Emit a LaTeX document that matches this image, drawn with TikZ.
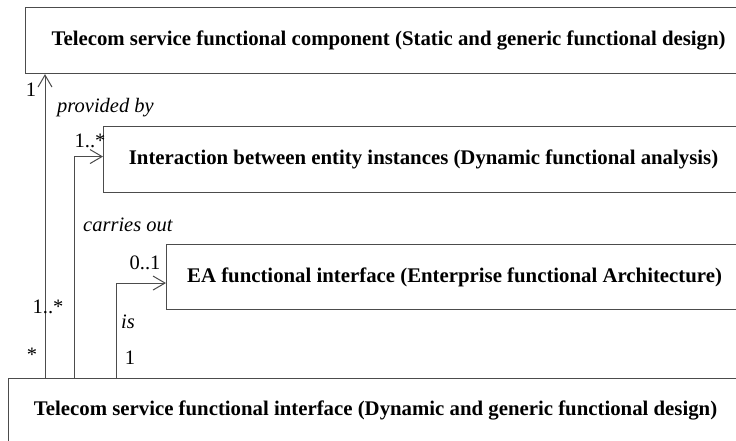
\documentclass[tikz,border=0pt]{standalone}
\usepackage{fontspec}
\setmainfont{Liberation Serif}
\usetikzlibrary{arrows.meta}
\begin{document}
\begin{tikzpicture}[x=1pt,y=-1pt,
  linecol/.style={draw=black!70},
  box/.style={linecol, line width=1.1pt, inner sep=0pt, anchor=north west, font=\fontsize{20.8}{24}\selectfont\bfseries, align=center},
  assoc/.style={linecol, line width=1pt, -{Straight Barb[length=12pt,width=14pt,line width=1pt]}},
  lbl/.style={font=\fontsize{20.5}{24}\selectfont, inner sep=0pt},
  ilbl/.style={font=\fontsize{20.5}{24}\selectfont\itshape, inner sep=0pt}]
\useasboundingbox (0,0) rectangle (736,441);
\clip (0,0) rectangle (736,441);
\fill[white] (0,0) rectangle (736,441);
\node[box, minimum width=726pt, minimum height=66pt] (comp) at (25,7) {Telecom service functional component (Static and generic functional design)};
\node[box, minimum width=640pt, minimum height=66pt] (inter) at (103,126) {Interaction between entity instances (Dynamic functional analysis)};
\node[box, minimum width=576pt, minimum height=65pt] (eaf) at (166,244) {EA functional interface (Enterprise functional Architecture)};
\node[box, minimum width=734pt, minimum height=64pt] (iface) at (8,378) {Telecom service functional interface (Dynamic and generic functional design)};
\coordinate (x1) at (45,0);
\coordinate (x2) at (74,0);
\coordinate (x3) at (116,0);
\draw[assoc] (iface.north -| x1) -- (comp.south -| x1);
\draw[assoc] (iface.north -| x2) |- ([yshift=3pt]inter.west);
\draw[assoc] (iface.north -| x3) |- ([yshift=-6pt]eaf.west);
\node[lbl] (m1) at (31,90) {1};
\node[ilbl, anchor=west] (pb) at (57,108) {provided by};
\node[lbl] (m2) at (90,141) {1..*};
\node[ilbl, anchor=west] (co) at (83,225) {carries out};
\node[lbl] (m3) at (145,263) {0..1};
\node[lbl] (m4) at (48,307) {1..*};
\node[ilbl, anchor=west] (is) at (121,322) {is};
\node[lbl] (m5) at (32,355) {*};
\node[lbl] (m6) at (130,358) {1};
\end{tikzpicture}
\end{document}
